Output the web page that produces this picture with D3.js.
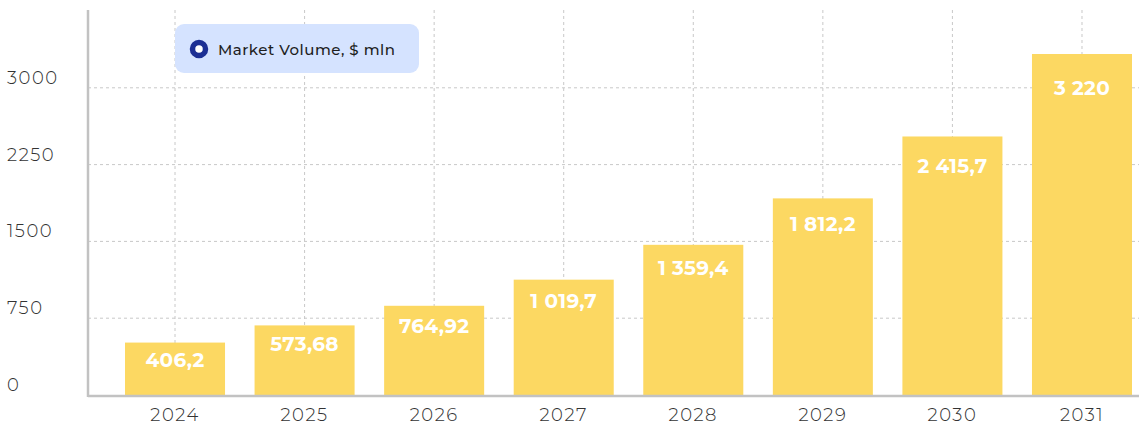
<!DOCTYPE html>
<html>
<head>
<meta charset="utf-8">
<script src="https://cdn.jsdelivr.net/npm/d3@7"></script>
<style>
	body { margin: 0; background: #fff; }
	svg { display: block; font-family: Montserrat, Inter, "Open Sans", sans-serif; }
	.grid line { stroke: #c8c8c8; stroke-dasharray: 3,3; }
	.tick-label { fill: #333; font-size: 18px; font-weight: 300; letter-spacing: 1.5px; }
	.bar-label { fill: #fff; font-size: 20px; font-weight: 700; letter-spacing: 0.3px; }
</style>
</head>
<body>
<svg id="chart" width="1139" height="426"></svg>
<script>
// chart data
const years = ["2024", "2025", "2026", "2027", "2028", "2029", "2030", "2031"];
const marketVolume = [406.2, 573.68, 764.92, 1019.7, 1359.4, 1812.2, 2415.7, 3220];
const yTicks = [0, 750, 1500, 2250, 3000];
const legendLabel = "Market Volume, $ mln";

const chartW = 1139, chartH = 426;
const plotLeft = 88, plotRight = 1139, plotTop = 10, plotBottom = 395;

const svg = d3.select("#chart");

const x = d3.scaleBand()
	.domain(years)
	.range([125, 1132])
	.paddingInner(0.228)
	.paddingOuter(0);

// value axis (gridlines + tick labels)
const y = d3.scaleLinear().domain([0, 3750]).range([plotBottom, plotTop + 1]);
// bars in the source sit on a slightly offset baseline
const yBar = d3.scaleLinear().domain([-105, 3220]).range([plotBottom, 54]);

const locale = d3.formatLocale({decimal: ",", thousands: " ", grouping: [3], currency: ["", ""]});
const fmt = locale.format(",~f");

// grid
const grid = svg.append("g").attr("class", "grid");
grid.selectAll(".h")
	.data(yTicks.filter(d => d > 0))
	.enter().append("line")
	.attr("x1", plotLeft).attr("x2", plotRight)
	.attr("y1", d => y(d)).attr("y2", d => y(d));
grid.selectAll(".v")
	.data(years)
	.enter().append("line")
	.attr("x1", d => x(d) + x.bandwidth() / 2)
	.attr("x2", d => x(d) + x.bandwidth() / 2)
	.attr("y1", plotTop).attr("y2", plotBottom);

// bars
svg.selectAll(".bar")
	.data(years)
	.enter().append("rect")
	.attr("class", "bar")
	.attr("fill", "#fcd862")
	.attr("x", d => x(d))
	.attr("width", x.bandwidth())
	.attr("y", (d, i) => yBar(marketVolume[i]))
	.attr("height", (d, i) => plotBottom - yBar(marketVolume[i]));

svg.selectAll(".bar-label")
	.data(years)
	.enter().append("text")
	.attr("class", "bar-label")
	.attr("text-anchor", "middle")
	.attr("dominant-baseline", "central")
	.attr("x", d => x(d) + x.bandwidth() / 2)
	.attr("y", (d, i) => {
		const t = yBar(marketVolume[i]);
		return t + 15 + 0.055 * (plotBottom - t);
	})
	.text((d, i) => fmt(marketVolume[i]));

// axes lines
svg.append("line")
	.attr("x1", plotLeft).attr("x2", plotLeft)
	.attr("y1", plotTop).attr("y2", plotBottom + 2)
	.attr("stroke", "#c2c2c2").attr("stroke-width", 2.5);
svg.append("line")
	.attr("x1", plotLeft).attr("x2", plotRight)
	.attr("y1", plotBottom + 1).attr("y2", plotBottom + 1)
	.attr("stroke", "#c2c2c2").attr("stroke-width", 2.5);

// y tick labels
svg.selectAll(".ylab")
	.data(yTicks)
	.enter().append("text")
	.attr("class", "tick-label")
	.attr("x", 7)
	.attr("y", d => y(d) - 4)
	.text(d => d);

// x tick labels
svg.selectAll(".xlab")
	.data(years)
	.enter().append("text")
	.attr("class", "tick-label")
	.attr("text-anchor", "middle")
	.attr("x", d => x(d) + x.bandwidth() / 2)
	.attr("y", 421)
	.text(d => d);

// legend
const legend = svg.append("g").attr("transform", "translate(175,24)");
legend.append("rect")
	.attr("width", 244).attr("height", 49)
	.attr("rx", 9)
	.attr("fill", "#d5e3ff");
legend.append("circle")
	.attr("cx", 24).attr("cy", 25).attr("r", 6.5)
	.attr("fill", "#fff")
	.attr("stroke", "#1c2f94").attr("stroke-width", 5.5);
legend.append("text")
	.attr("x", 43).attr("y", 25)
	.attr("dominant-baseline", "central")
	.attr("fill", "#1e1e1e")
	.attr("font-size", 15)
	.attr("font-weight", 500)
	.attr("letter-spacing", 0.5)
	.text(legendLabel);
</script>
</body>
</html>
